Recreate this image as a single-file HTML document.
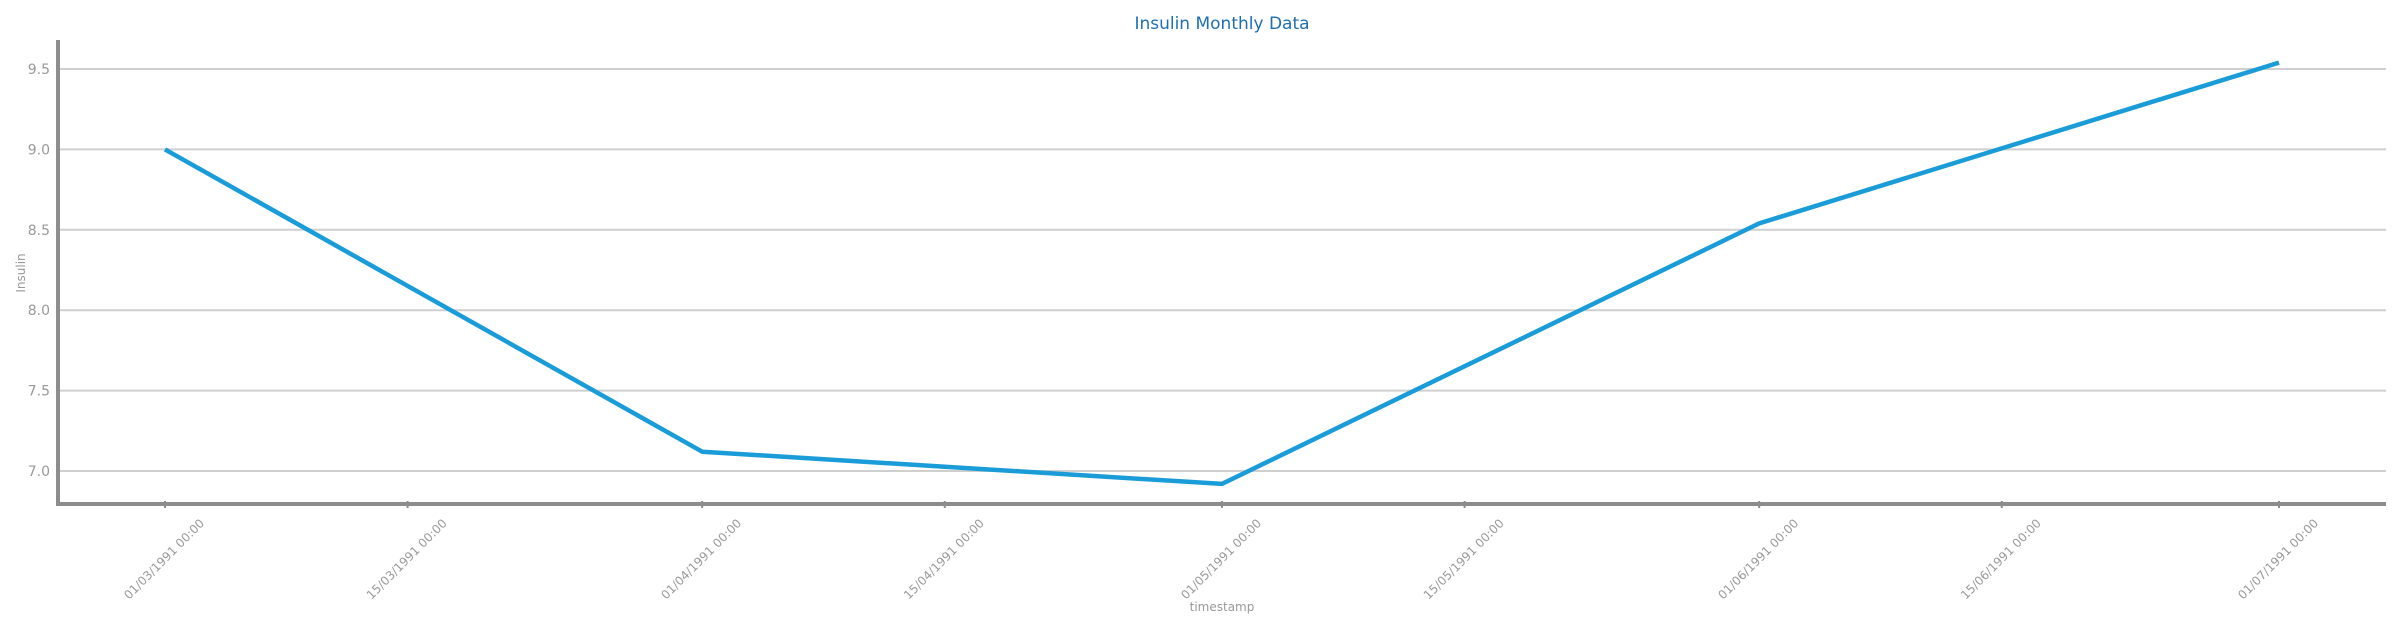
<!DOCTYPE html>
<html><head><meta charset="utf-8"><style>
html,body{margin:0;padding:0;background:#fff;}
svg{display:block;font-family:"DejaVu Sans","Liberation Sans",sans-serif;}
</style></head><body>
<svg id="chart" width="2399" height="627" viewBox="0 0 2399 627">
<text x="1222" y="29" text-anchor="middle" font-size="17" fill="#1f6fb0">Insulin Monthly Data</text>
<g id="grid"></g>
<g id="axes"></g>
<g id="series"></g>
<text transform="translate(25,273) rotate(-90)" text-anchor="middle" font-size="12" fill="#999">Insulin</text>
<text x="1222" y="611" text-anchor="middle" font-size="12" fill="#999">timestamp</text>
</svg>
<script>
const dates = ["1991-03-01","1991-04-01","1991-05-01","1991-06-01","1991-07-01"];
const values = [9.0, 7.12, 6.92, 8.54, 9.54];
const yTicks = [7.0, 7.5, 8.0, 8.5, 9.0, 9.5];
const xTickDates = ["1991-03-01","1991-03-15","1991-04-01","1991-04-15","1991-05-01","1991-05-15","1991-06-01","1991-06-15","1991-07-01"];
const xTickLabels = ["01/03/1991 00:00","15/03/1991 00:00","01/04/1991 00:00","15/04/1991 00:00","01/05/1991 00:00","15/05/1991 00:00","01/06/1991 00:00","15/06/1991 00:00","01/07/1991 00:00"];

const NS="http://www.w3.org/2000/svg";
const L=58,R=2386,T=40,B=504;
const t0=Date.UTC(1991,2,1), t1=Date.UTC(1991,6,1);
function d(s){const p=s.split('-');return Date.UTC(+p[0],+p[1]-1,+p[2]);}
function x(s){return 165+(d(s)-t0)/(t1-t0)*(2279-165);}
function y(v){return 471-(v-7)*160.8;}
function mk(tag,attrs,parent){const e=document.createElementNS(NS,tag);for(const k in attrs)e.setAttribute(k,attrs[k]);parent.appendChild(e);return e;}
const grid=document.getElementById('grid'),axes=document.getElementById('axes'),series=document.getElementById('series');
yTicks.forEach(v=>{
  const ln=mk('line',{x1:L,x2:R,y1:y(v),y2:y(v),stroke:'#cfcfcf','stroke-width':2},grid);
  
  
  const tx=mk('text',{x:50,y:y(v)+5,'text-anchor':'end','font-size':14,fill:'#999'},axes);
  tx.textContent=v.toFixed(1);
  
  
});
const ya=mk('line',{x1:L,x2:L,y1:T,y2:B+2,stroke:'#8c8c8c','stroke-width':4},axes);


const xa=mk('line',{x1:L-2,x2:R,y1:B,y2:B,stroke:'#8c8c8c','stroke-width':4},axes);


xTickDates.forEach((s,i)=>{
  const px=x(s);
  const tk=mk('line',{x1:px,x2:px,y1:B-3,y2:B+4,stroke:'#8c8c8c','stroke-width':2},axes);
  
  
  const tx=mk('text',{transform:`translate(${px+40},524) rotate(-45)`,'text-anchor':'end','font-size':12,fill:'#999'},axes);
  tx.textContent=xTickLabels[i];
  
  
});
const pts=dates.map((s,i)=>x(s).toFixed(1)+','+y(values[i]).toFixed(1)).join(' ');
const pl=mk('polyline',{points:pts,fill:'none',stroke:'#1a9cd8','stroke-width':4.5,'stroke-linejoin':'round'},series);


</script>
</body></html>
